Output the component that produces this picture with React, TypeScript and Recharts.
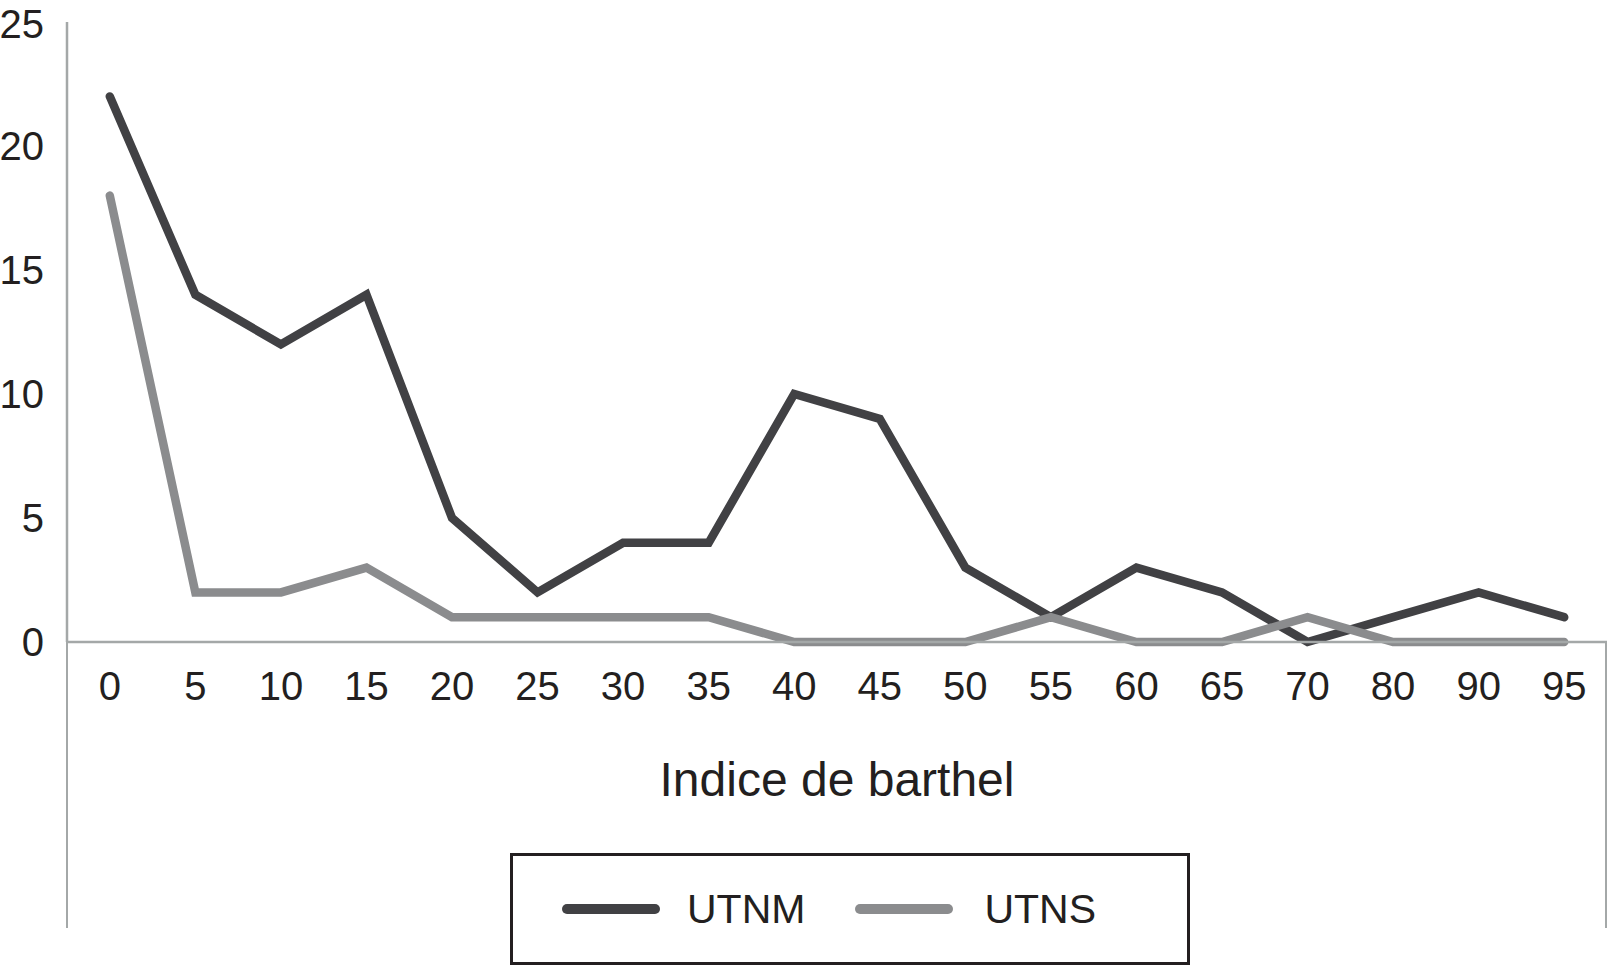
import React from "react";
import { LineChart, Line, XAxis, YAxis, Legend } from "recharts";

const categories = ["0", "5", "10", "15", "20", "25", "30", "35", "40", "45", "50", "55", "60", "65", "70", "80", "90", "95"];
const utnm = [22, 14, 12, 14, 5, 2, 4, 4, 10, 9, 3, 1, 3, 2, 0, 1, 2, 1];
const utns = [18, 2, 2, 3, 1, 1, 1, 1, 0, 0, 0, 1, 0, 0, 1, 0, 0, 0];
const yTicks = [0, 5, 10, 15, 20, 25];

const seriesInfo = [
  { key: "UTNM", color: "#414144" },
  { key: "UTNS", color: "#8b8c8e" },
];

const data = categories.map((c, i) => ({ name: c, UTNM: utnm[i], UTNS: utns[i] }));

const FONT = "'Liberation Sans', Arial, Helvetica, sans-serif";
const TEXT = "#231f20";
const AXIS = "#a4a8a8";

function LegendBox() {
  return (
    <div
      style={{
        boxSizing: "border-box",
        width: 680,
        height: 112,
        border: `3px solid ${TEXT}`,
        display: "flex",
        alignItems: "center",
        paddingLeft: 49,
        fontFamily: FONT,
        fontSize: 41,
        color: TEXT,
      }}
    >
      {seriesInfo.map((s, i) => (
        <div key={s.key} style={{ display: "flex", alignItems: "center", marginRight: i === 0 ? 50 : 0 }}>
          <div style={{ width: 98, height: 10, borderRadius: 5, background: s.color, marginRight: i === 0 ? 27 : 31 }} />
          <span style={{ lineHeight: 1 }}>{s.key}</span>
        </div>
      ))}
    </div>
  );
}

export default function App() {
  return (
    <div style={{ position: "absolute", left: 0, top: 0, width: 1609, height: 967, background: "#fff" }}>
      <LineChart width={1609} height={967} data={data} margin={{ top: 22, right: 2, bottom: 0, left: 0 }}>
        <XAxis
          dataKey="name"
          height={325}
          padding={{ left: 42.8, right: 42.8 }}
          axisLine={{ stroke: AXIS, strokeWidth: 2.5 }}
          tickLine={false}
          tickSize={6}
          tickMargin={24}
          interval={0}
          tick={{ fontSize: 40, fill: TEXT, fontFamily: FONT }}
          label={{
            value: "Indice de barthel",
            position: "insideTop",
            offset: 120,
            dx: 0,
            fontSize: 48,
            fill: TEXT,
            fontFamily: FONT,
          }}
        />
        <YAxis
          type="number"
          domain={[0, 25]}
          ticks={yTicks}
          width={67}
          axisLine={{ stroke: AXIS, strokeWidth: 2.5 }}
          tickLine={false}
          tickSize={6}
          tickMargin={17}
          tick={{ fontSize: 40, fill: TEXT, fontFamily: FONT }}
        />
        <Legend
          verticalAlign="middle"
          layout="horizontal"
          wrapperStyle={{ left: 510, top: 853, width: 680, height: 112 }}
          content={() => <LegendBox />}
        />
        {seriesInfo.map((s) => (
          <Line
            key={s.key}
            type="linear"
            dataKey={s.key}
            stroke={s.color}
            strokeWidth={8.5}
            strokeLinejoin="miter"
            strokeLinecap="round"
            dot={false}
            activeDot={false}
            isAnimationActive={false}
          />
        ))}
      </LineChart>
      {/* frame below the plot area, as in the original figure */}
      <div
        style={{
          position: "absolute",
          left: 66,
          top: 642,
          width: 1541,
          height: 286,
          boxSizing: "border-box",
          borderLeft: `2.5px solid ${AXIS}`,
          borderRight: `2.5px solid ${AXIS}`,
          pointerEvents: "none",
        }}
      />
    </div>
  );
}
